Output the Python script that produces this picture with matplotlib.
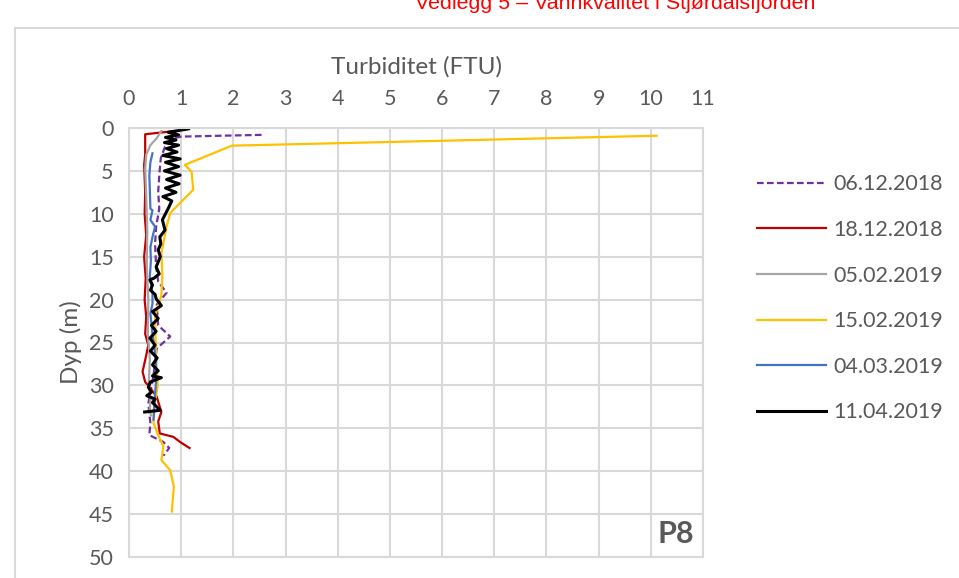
import matplotlib.pyplot as plt
from matplotlib.patches import Rectangle

plt.rcParams["font.family"] = ["Lato", "DejaVu Sans"]
TXT = "#595959"
GRID = "#d9d9d9"

labels = ["06.12.2018", "18.12.2018", "05.02.2019", "15.02.2019", "04.03.2019", "11.04.2019"]
colors = ["#7030a0", "#c00000", "#a5a5a5", "#ffc000", "#4472c4", "#000000"]

# turbidity (FTU) and depth (m) per date
turb_0612 = [2.54, 1.0, 0.85, 0.69, 0.61, 0.58, 0.56, 0.58, 0.52, 0.50, 0.52, 0.56, 0.72, 0.53,
             0.56, 0.79, 0.53, 0.47, 0.37, 0.41, 0.39, 0.66, 0.77, 0.66]
dep_0612 = [0.8, 1.0, 1.2, 2.2, 3.5, 5.5, 7.4, 9.4, 11.5, 13.5, 16.2, 17.9, 19.2, 20.6,
            23.0, 24.3, 25.7, 28.8, 32.1, 34.4, 35.8, 36.6, 37.3, 38.2]

turb_1812 = [0.88, 0.31, 0.31, 0.29, 0.31, 0.30, 0.33, 0.29, 0.32, 0.30, 0.33, 0.31, 0.37, 0.33,
             0.26, 0.31, 0.37, 0.53, 0.62, 0.56, 0.59, 0.85, 0.98, 1.16]
dep_1812 = [0.35, 0.73, 3.1, 4.3, 7.4, 10.0, 12.5, 15.0, 17.5, 20.0, 22.0, 24.0, 25.3, 26.5,
            28.4, 29.6, 30.0, 31.3, 33.1, 34.2, 35.6, 36.0, 36.6, 37.3]

turb_0502 = [0.62, 0.53, 0.41, 0.33, 0.31, 0.33, 0.35, 0.34, 0.37, 0.36, 0.40, 0.38, 0.41, 0.40, 0.42]
dep_0502 = [0.35, 1.2, 2.0, 3.1, 4.7, 8.0, 12.0, 16.0, 20.0, 24.0, 27.0, 29.6, 31.5, 32.8, 33.5]

turb_1502 = [10.11, 1.97, 1.07, 1.20, 1.23, 0.79, 0.72, 0.62, 0.64, 0.62, 0.50, 0.52, 0.55,
             0.47, 0.47, 0.56, 0.66, 0.62, 0.79, 0.86, 0.82]
dep_1502 = [0.9, 2.06, 4.3, 5.1, 7.2, 9.9, 11.5, 14.6, 17.1, 19.5, 21.9, 27.3, 30.0,
            32.9, 34.4, 35.8, 37.1, 38.7, 39.9, 41.8, 44.7]

turb_0403 = [0.45, 0.41, 0.39, 0.40, 0.41, 0.45, 0.41, 0.50, 0.45, 0.41, 0.42, 0.40, 0.45,
             0.45, 0.41, 0.45, 0.52, 0.50, 0.52, 0.50, 0.48, 0.47]
dep_0403 = [2.95, 4.0, 5.5, 7.4, 9.4, 9.6, 10.7, 11.5, 12.7, 13.9, 15.4, 17.3, 19.3,
            20.5, 21.6, 24.0, 27.2, 29.2, 29.5, 31.0, 33.2, 34.0]

turb_1104 = [1.14, 0.75, 0.95, 0.70, 0.90, 0.68, 0.95, 0.72, 0.92, 0.65, 0.98, 0.70, 0.95, 0.68,
             0.98, 0.72, 0.96, 0.70, 0.90, 0.65, 0.82, 0.75, 0.64, 0.69, 0.59, 0.61, 0.56, 0.60,
             0.52, 0.58, 0.48, 0.40, 0.45, 0.41, 0.50, 0.52, 0.62, 0.45, 0.56, 0.43, 0.52, 0.40,
             0.50, 0.41, 0.54, 0.45, 0.56, 0.45, 0.62, 0.41, 0.37, 0.43, 0.34, 0.50, 0.45, 0.60, 0.30]
dep_1104 = [0.1, 0.5, 0.8, 1.1, 1.4, 1.7, 2.0, 2.4, 2.8, 3.2, 3.6, 4.0, 4.5, 5.0,
            5.5, 6.0, 6.5, 7.0, 7.5, 8.0, 8.5, 9.4, 10.7, 11.9, 12.7, 13.5, 14.2, 15.0,
            16.2, 17.0, 17.5, 17.7, 18.3, 18.9, 19.4, 19.9, 20.7, 21.4, 22.2, 23.0, 23.7, 24.5,
            25.3, 26.0, 26.8, 27.6, 28.3, 28.9, 29.1, 29.6, 30.2, 30.8, 31.2, 31.6, 32.0, 32.9, 33.1]

series = [(turb_0612, dep_0612), (turb_1812, dep_1812), (turb_0502, dep_0502),
          (turb_1502, dep_1502), (turb_0403, dep_0403), (turb_1104, dep_1104)]

fig = plt.figure(figsize=(9.59, 5.78), dpi=100)
ax = fig.add_axes([129 / 959, 1 - 557 / 578, (703 - 129) / 959, (557 - 128) / 578])

# chart border and clipped header
fig.patches.append(Rectangle((15 / 959, -0.1), 1.2, 1 - 28 / 578 + 0.1, transform=fig.transFigure,
                             fill=False, edgecolor=GRID, linewidth=1.5))
fig.text(615 / 959, 1 - 9 / 578, "Vedlegg 5 – Vannkvalitet i Stjørdalsfjorden", color="#ff0000",
         fontsize=15.4, ha="center", va="baseline", family=["Liberation Sans", "DejaVu Sans"])

for (x, y), lab, col in zip(series, labels, colors):
    ls = (0, (3, 1.5)) if lab == "06.12.2018" else "-"
    lw = 2.2 if lab == "11.04.2019" else 1.6
    ax.plot(x, y, color=col, linestyle=ls, linewidth=lw, label=lab)

ax.set_xlim(0, 11)
ax.set_ylim(50, 0)
ax.set_xticks(range(0, 12))
ax.set_yticks(range(0, 51, 5))
ax.xaxis.tick_top()
ax.xaxis.set_label_position("top")
ax.tick_params(length=0, labelsize=15.5, colors=TXT, pad=11)
ax.tick_params(axis="x", pad=14)
ax.set_xlabel("Turbiditet (FTU)", fontsize=17.5, color=TXT, labelpad=11)
ax.set_ylabel("Dyp (m)", fontsize=17.5, color=TXT, labelpad=5)
ax.grid(True, color=GRID, linewidth=1.5)
ax.set_axisbelow(True)
for s in ax.spines.values():
    s.set_color(GRID)
    s.set_linewidth(1.5)

ax.text(0.985, 0.02, "P8", transform=ax.transAxes, ha="right", va="bottom",
        fontsize=22, fontweight="bold", color=TXT)

fig.legend(loc="upper left", bbox_to_anchor=(738 / 959, 1 - 155 / 578), frameon=False,
           fontsize=15.5, handlelength=3.2, handletextpad=0.33, labelspacing=1.19,
           labelcolor=TXT)

fig.savefig("out.png", dpi=100)
